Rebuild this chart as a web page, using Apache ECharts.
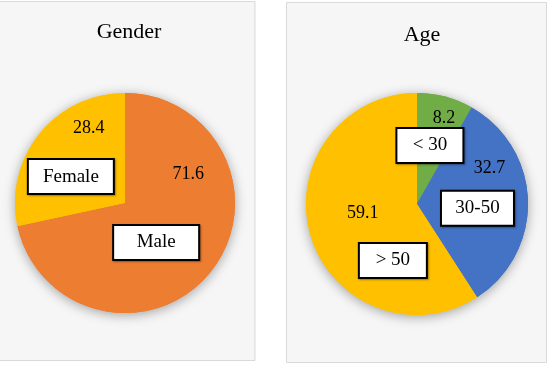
<!DOCTYPE html>
<html><head><meta charset="utf-8">
<script src="https://cdn.jsdelivr.net/npm/echarts@6/dist/echarts.min.js"></script>
<style>html,body{margin:0;padding:0;background:#fff}#c{width:549px;height:366px}</style>
</head><body><div id="c"></div>
<script>
const genderTitle = 'Gender';
const genderNames = ['Male', 'Female'];
const genderValues = [71.6, 28.4];
const genderColors = ['#ED7D31', '#FFC000'];

const ageTitle = 'Age';
const ageNames = ['< 30', '30-50', '> 50'];
const ageValues = [8.2, 32.7, 59.1];
const ageColors = ['#70AD47', '#4472C4', '#FFC000'];

// label offsets (styling only)
const genderValueOffsets = [[18, -65], [9, -38]];
const genderNameOffsets = [[-14, 3], [-9, 10]];
const genderBoxWidths = [84, 84];
const ageValueOffsets = [[12, -29], [14, -34], [2, -7]];
const ageNameOffsets = [[-2, -2], [2, 6], [32, 40]];
const ageBoxWidths = [65, 71, 66];

const FONT = '"Liberation Serif", "Times New Roman", serif';

function mk(names, values, colors) {
  return names.map((n, i) => ({ name: n, value: values[i], itemStyle: { color: colors[i] } }));
}

function pieSet(names, values, colors, center, radius, valOff, nameOff, widths) {
  const data = mk(names, values, colors);
  const base = { type: 'pie', center: center, radius: [0, radius], startAngle: 90, clockwise: true,
    animation: false, avoidLabelOverlap: false, labelLine: { show: false } };
  return [
    Object.assign({}, base, { z: 1, silent: true, data: data,
      itemStyle: { shadowBlur: 12, shadowColor: 'rgba(0,0,0,0.35)', shadowOffsetX: 0, shadowOffsetY: 2 },
      label: { show: false } }),
    Object.assign({}, base, { z: 2, data: data,
      itemStyle: { borderWidth: 0 },
      label: { show: true, position: 'inside', formatter: p => p.value.toFixed(1),
        fontFamily: FONT, fontSize: 18, color: '#000' },
      labelLayout: p => ({ dx: valOff[p.dataIndex][0], dy: valOff[p.dataIndex][1] }) }),
    Object.assign({}, base, { z: 3, silent: true,
      data: names.map((n, i) => ({ name: n, value: values[i],
        itemStyle: { color: 'rgba(0,0,0,0)' },
        label: { width: widths[i] } })),
      label: { show: true, position: 'inside', formatter: '{b}', fontFamily: FONT, fontSize: 19,
        lineHeight: 19,
        color: '#000', backgroundColor: '#fff', borderColor: '#000', borderWidth: 2,
        padding: [7, 0], align: 'center',
        shadowColor: 'rgba(0,0,0,0.35)', shadowBlur: 2, shadowOffsetX: 1, shadowOffsetY: 1 },
      labelLayout: p => ({ dx: nameOff[p.dataIndex][0], dy: nameOff[p.dataIndex][1] }) })
  ];
}

const chart = echarts.init(document.getElementById('c'), null, { renderer: 'canvas' });
chart.setOption({
  backgroundColor: '#fff',
  animation: false,
  graphic: [
    { type: 'rect', z: -10, shape: { x: -2, y: 1.5, width: 257, height: 359 },
      style: { fill: '#f6f6f6', stroke: '#d9d9d9', lineWidth: 1 } },
    { type: 'rect', z: -10, shape: { x: 286.5, y: 2.5, width: 260, height: 360 },
      style: { fill: '#f6f6f6', stroke: '#d9d9d9', lineWidth: 1 } }
  ],
  title: [
    { text: genderTitle, left: 124, top: 16, textAlign: 'center',
      textStyle: { fontFamily: FONT, fontWeight: 'normal', fontSize: 22, color: '#000' } },
    { text: ageTitle, left: 417, top: 19, textAlign: 'center',
      textStyle: { fontFamily: FONT, fontWeight: 'normal', fontSize: 22, color: '#000' } }
  ],
  series: [].concat(
    pieSet(genderNames, genderValues, genderColors, [125, 203], 110, genderValueOffsets, genderNameOffsets, genderBoxWidths),
    pieSet(ageNames, ageValues, ageColors, [417, 204], 111, ageValueOffsets, ageNameOffsets, ageBoxWidths)
  )
});
</script>
</body></html>
